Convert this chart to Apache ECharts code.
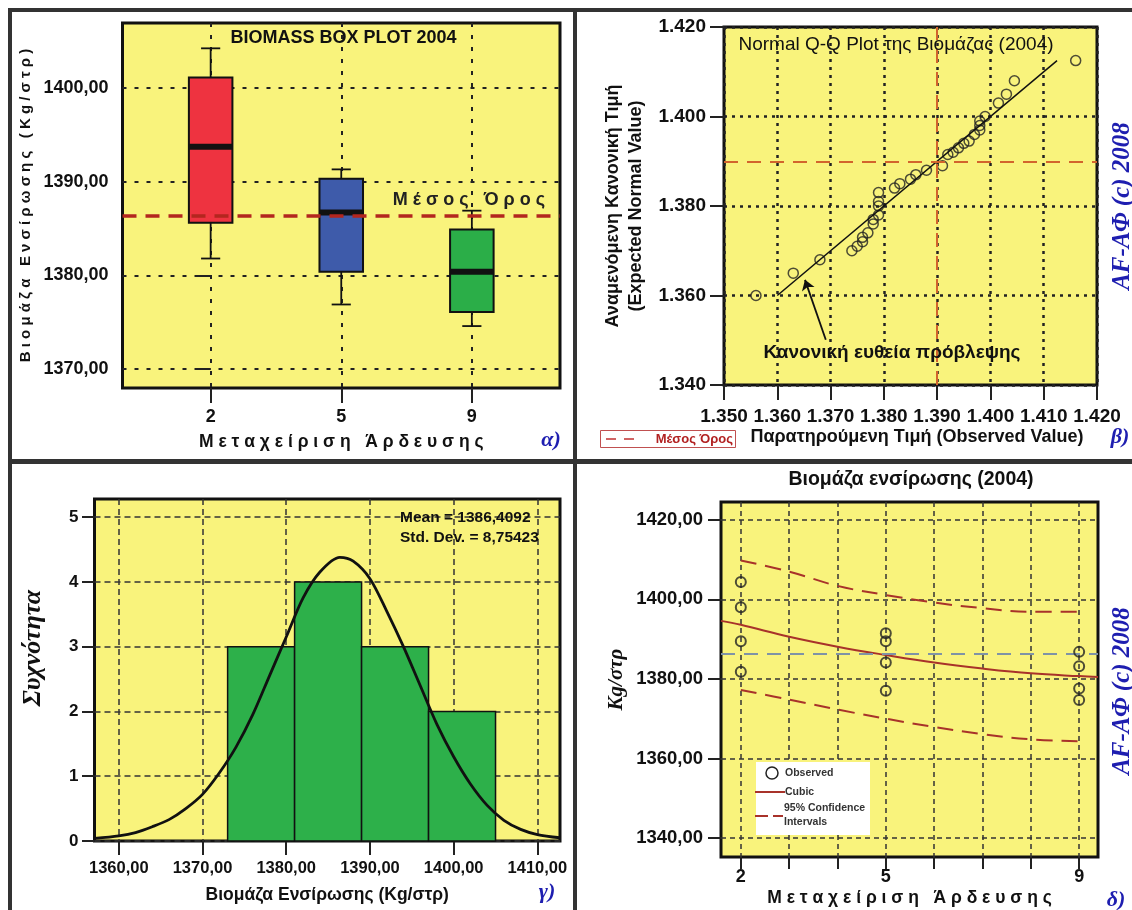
<!doctype html>
<html>
<head>
<meta charset="UTF-8">
<title>Βιομάζα ενσίρωσης 2004</title>
<script src="https://cdn.jsdelivr.net/npm/echarts@6/dist/echarts.min.js"></script>
<style>
  html, body { margin: 0; padding: 0; background: #fff; }
  #main { width: 1132px; height: 910px; }
</style>
</head>
<body>
<div id="main"></div>
<script>
// ---- data ----
var treatments = ['2', '5', '9'];
// [low, q1, median, q3, high] per treatment
var boxStats = [
    [1381.8, 1385.6, 1393.7, 1401.1, 1404.2],
    [1376.9, 1380.4, 1386.7, 1390.3, 1391.3],
    [1374.6, 1376.1, 1380.4, 1384.9, 1386.9]
];
var boxColors = ['#EE3340', '#3E5BAA', '#2BAE48'];
var meanValue = 1386.4092;
var stdDev = 8.75423;

// Q-Q plot (observed vs expected normal value)
var qqObserved = [1.356, 1.363, 1.368, 1.374, 1.375, 1.376, 1.376, 1.377, 1.378, 1.378, 1.379, 1.379, 1.379, 1.379,
    1.382, 1.383, 1.385, 1.386, 1.388, 1.391, 1.392, 1.393, 1.394, 1.395, 1.396, 1.397, 1.398, 1.398, 1.398, 1.399,
    1.4015, 1.403, 1.4045, 1.416];
var qqExpected = [1.360, 1.365, 1.368, 1.370, 1.371, 1.372, 1.373, 1.374, 1.376, 1.377, 1.378, 1.380, 1.381, 1.383,
    1.384, 1.385, 1.386, 1.387, 1.388, 1.389, 1.3915, 1.392, 1.393, 1.394, 1.3945, 1.396, 1.397, 1.398, 1.399, 1.400,
    1.403, 1.405, 1.408, 1.4125];
var qqLineEnds = [1.360, 1.4125];
var qqMean = 1.3864;

// histogram
var binStart = [1373, 1381, 1389, 1397];
var binEnd = [1381, 1389, 1397, 1405];
var binCount = [3, 4, 3, 2];
var curveX = [1357.1, 1360, 1362, 1364, 1366, 1368, 1370, 1372, 1374, 1376, 1378, 1380, 1382, 1384, 1386.4,
    1388, 1390, 1392, 1394, 1396, 1398, 1400, 1402, 1404, 1406, 1408, 1410, 1412.7];
var curveY = [0.04, 0.08, 0.13, 0.22, 0.33, 0.50, 0.72, 1.05, 1.45, 1.95, 2.55, 3.15, 3.75, 4.15, 4.38,
    4.32, 4.05, 3.55, 3.00, 2.40, 1.80, 1.30, 0.88, 0.55, 0.32, 0.18, 0.10, 0.05];

// curve fit
var obsX = [2, 2, 2, 2, 5, 5, 5, 5, 9, 9, 9, 9];
var obsY = [1404.4, 1398.0, 1389.5, 1381.8, 1391.5, 1389.5, 1384.1, 1377.0, 1386.8, 1383.2, 1377.6, 1374.7];
var fitX = [1.59, 2, 3, 4, 5, 6, 7, 8, 9, 9.39];
var fitY = [1394.6, 1393.6, 1390.6, 1388.1, 1386.0, 1384.1, 1382.6, 1381.4, 1380.7, 1380.5];
var ciX = [2, 3, 4, 5, 6, 7, 8, 9];
var ciUpper = [1409.8, 1407.0, 1403.4, 1401.1, 1399.2, 1397.8, 1396.9, 1396.9];
var ciLower = [1377.2, 1374.8, 1372.3, 1370.0, 1367.9, 1366.1, 1364.8, 1364.3];

function pairs(xs, ys) {
    return xs.map(function (x, i) { return [x, ys[i]]; });
}
function comma2(v) { return v.toFixed(2).replace('.', ','); }

// ---- styles ----
var SANS = 'Liberation Sans, Arial, sans-serif';
var SERIF = 'Liberation Serif, Times New Roman, serif';
var YELLOW = '#F9F37C';
var INK = '#111';
var BLUE = '#1E1EB0';
var FIT = '#A8322A';

function gridBox(left, top, width, height) {
    return {left: left, top: top, width: width, height: height, show: true,
        backgroundColor: YELLOW, borderColor: INK, borderWidth: 3, containLabel: false};
}
function label(extra) {
    var o = {color: INK, fontWeight: 'bold', fontSize: 18, fontFamily: SANS};
    for (var k in extra) o[k] = extra[k];
    return o;
}
function tick(len, values) {
    var o = {show: true, inside: false, length: len, lineStyle: {color: '#222', width: 2}};
    if (values) o.customValues = values;
    return o;
}
function txt(s, x, y, font, fill, align, extra) {
    var el = {type: 'text', z: 10, style: {text: s, x: x, y: y, font: font, fill: fill || INK,
        align: align || 'center', textAlign: align || 'center', verticalAlign: 'middle', textVerticalAlign: 'middle'}};
    for (var k in extra) el[k] = extra[k];
    return el;
}

var myChart = echarts.init(document.getElementById('main'));

var option = {
    backgroundColor: '#fff',
    animation: false,
    grid: [
        gridBox(122.5, 23, 437.5, 365),
        gridBox(724, 27, 373, 358),
        gridBox(94.5, 499, 465.5, 342),
        gridBox(721, 502, 377, 355)
    ],
    xAxis: [
        {
            gridIndex: 0, type: 'value', min: -0.675, max: 2.675,
            axisLine: {show: false},
            axisTick: tick(15, [0, 1, 2]),
            axisLabel: label({customValues: [0, 1, 2], margin: 20,
                formatter: function (v) { return treatments[Math.round(v)]; }}),
            splitLine: {show: true, lineStyle: {type: [4, 8], color: '#222', width: 2}},
            name: 'Μ ε τ α χ ε ί ρ ι σ η   Ά ρ δ ε υ σ η ς', nameLocation: 'middle', nameGap: 45,
            nameTextStyle: label({fontSize: 17.5})
        },
        {
            gridIndex: 1, type: 'value', min: 1.35, max: 1.42, interval: 0.01,
            axisLine: {show: false},
            axisTick: tick(15),
            axisLabel: label({margin: 22, fontSize: 19, formatter: function (v) { return v.toFixed(3); }}),
            splitLine: {show: true, lineStyle: {type: [3, 5], color: '#222', width: 2.5}},
            name: 'Παρατηρούμενη Τιμή (Observed Value)', nameLocation: 'middle', nameGap: 43,
            nameTextStyle: label({padding: [0, 0, 0, 13]})
        },
        {
            gridIndex: 2, type: 'value', min: 1357.1, max: 1412.7,
            axisLine: {show: false},
            axisTick: tick(14, [1360, 1370, 1380, 1390, 1400, 1410]),
            axisLabel: label({customValues: [1360, 1370, 1380, 1390, 1400, 1410], margin: 19, fontSize: 16.5, formatter: comma2}),
            splitLine: {show: true, lineStyle: {type: [6, 4], color: '#333', width: 1.5}},
            name: 'Βιομάζα Ενσίρωσης (Kg/στρ)', nameLocation: 'middle', nameGap: 45,
            nameTextStyle: label({fontSize: 17.5})
        },
        {
            gridIndex: 3, type: 'value', min: 1.59, max: 9.39,
            axisLine: {show: false},
            axisTick: tick(12, [2, 3, 4, 5, 6, 7, 8, 9]),
            axisLabel: label({customValues: [2, 5, 9], margin: 11,
                formatter: function (v) { return String(Math.round(v)); }}),
            splitLine: {show: true, lineStyle: {type: [5, 4], color: '#333', width: 1.5}},
            name: 'Μ ε τ α χ ε ί ρ ι σ η   Ά ρ δ ε υ σ η ς', nameLocation: 'middle', nameGap: 32,
            nameTextStyle: label({fontSize: 17.5})
        }
    ],
    yAxis: [
        {
            gridIndex: 0, type: 'value', min: 1368, max: 1406.9,
            axisLine: {show: false},
            axisTick: tick(13.5, [1370, 1380, 1390, 1400]),
            axisLabel: label({customValues: [1370, 1380, 1390, 1400], margin: 14, formatter: comma2}),
            splitLine: {show: true, lineStyle: {type: [4, 8], color: '#222', width: 2}},
            name: 'Β ι ο μ ά ζ α   Ε ν σ ί ρ ω σ η ς   ( K g / σ τ ρ )', nameLocation: 'middle', nameGap: 89,
            nameTextStyle: label({fontSize: 15})
        },
        {
            gridIndex: 1, type: 'value', min: 1.34, max: 1.42, interval: 0.02,
            axisLine: {show: false},
            axisTick: tick(14),
            axisLabel: label({margin: 18, fontSize: 19, formatter: function (v) { return v.toFixed(3); }}),
            splitLine: {show: true, lineStyle: {type: [3, 5], color: '#222', width: 2.5}},
            name: 'Αναμενόμενη Κανονική Τιμή\n(Expected Normal Value)', nameLocation: 'middle', nameGap: 76,
            nameTextStyle: label({lineHeight: 23})
        },
        {
            gridIndex: 2, type: 'value', min: 0, max: 5.28,
            axisLine: {show: false},
            axisTick: tick(12.5, [0, 1, 2, 3, 4, 5]),
            axisLabel: label({customValues: [0, 1, 2, 3, 4, 5], margin: 16, fontSize: 17})
            ,splitLine: {show: true, lineStyle: {type: [6, 4], color: '#333', width: 1.5}}
        },
        {
            gridIndex: 3, type: 'value', min: 1335.2, max: 1424.5,
            axisLine: {show: false},
            axisTick: tick(13, [1340, 1360, 1380, 1400, 1420]),
            axisLabel: label({customValues: [1340, 1360, 1380, 1400, 1420], margin: 18, fontSize: 18.5, formatter: comma2}),
            splitLine: {show: true, lineStyle: {type: [5, 4], color: '#333', width: 1.5}},
            name: 'Kg/στρ', nameLocation: 'middle', nameGap: 94,
            nameTextStyle: {color: INK, fontSize: 21, fontStyle: 'italic', fontWeight: 'bold', fontFamily: SERIF}
        }
    ],
    series: [
        // α) box plot
        {
            type: 'custom', xAxisIndex: 0, yAxisIndex: 0,
            data: boxStats.map(function (s, i) { return [i].concat(s); }),
            encode: {x: 0, y: [1, 2, 3, 4, 5]},
            renderItem: function (params, api) {
                var x = api.value(0);
                var lo = api.coord([x, api.value(1)]);
                var q1 = api.coord([x, api.value(2)]);
                var md = api.coord([x, api.value(3)]);
                var q3 = api.coord([x, api.value(4)]);
                var hi = api.coord([x, api.value(5)]);
                var half = api.size([1, 0])[0] / 6;
                var cap = half * 0.44;
                return {
                    type: 'group', children: [
                        {type: 'line', shape: {x1: lo[0], y1: lo[1], x2: hi[0], y2: hi[1]}, style: {stroke: INK, lineWidth: 1.8}},
                        {type: 'line', shape: {x1: lo[0] - cap, y1: lo[1], x2: lo[0] + cap, y2: lo[1]}, style: {stroke: INK, lineWidth: 1.8}},
                        {type: 'line', shape: {x1: hi[0] - cap, y1: hi[1], x2: hi[0] + cap, y2: hi[1]}, style: {stroke: INK, lineWidth: 1.8}},
                        {type: 'rect', shape: {x: q3[0] - half, y: q3[1], width: half * 2, height: q1[1] - q3[1]},
                            style: {fill: boxColors[params.dataIndex], stroke: INK, lineWidth: 2}},
                        {type: 'line', shape: {x1: md[0] - half, y1: md[1], x2: md[0] + half, y2: md[1]}, style: {stroke: INK, lineWidth: 6}}
                    ]
                };
            },
            markLine: {
                silent: true, symbol: 'none',
                lineStyle: {color: '#B3261E', type: [14, 9], width: 3.5},
                label: {show: true, position: 'insideEndTop', distance: [15, 6],
                    formatter: 'Μ έ σ ο ς   Ό ρ ο ς', color: '#222', fontWeight: 'bold', fontSize: 18, fontFamily: SANS},
                data: [{yAxis: meanValue}]
            }
        },
        // β) Q-Q plot
        {
            type: 'line', xAxisIndex: 1, yAxisIndex: 1,
            data: qqLineEnds.map(function (v) { return [v, v]; }),
            symbol: 'none', lineStyle: {color: INK, width: 1.5},
            markLine: {
                silent: true, symbol: 'none',
                lineStyle: {color: '#D2642C', type: [14, 9], width: 2},
                label: {show: false},
                data: [
                    {xAxis: qqMean},
                    {yAxis: qqMean},
                    [{coord: [1.3691, 1.3501], symbol: 'none', lineStyle: {color: INK, type: 'solid', width: 1.8}},
                        {coord: [1.3652, 1.3635], symbol: 'arrow', symbolSize: 10}]
                ]
            }
        },
        {
            type: 'scatter', xAxisIndex: 1, yAxisIndex: 1,
            data: pairs(qqObserved, qqExpected),
            symbol: 'circle', symbolSize: 10,
            itemStyle: {color: 'rgba(0,0,0,0)', borderColor: '#222', borderWidth: 1.5}
        },
        // γ) histogram
        {
            type: 'custom', xAxisIndex: 2, yAxisIndex: 2,
            data: binCount.map(function (c, i) { return [binStart[i], binEnd[i], c]; }),
            encode: {x: [0, 1], y: 2},
            renderItem: function (params, api) {
                var p0 = api.coord([api.value(0), api.value(2)]);
                var p1 = api.coord([api.value(1), 0]);
                return {type: 'rect', shape: {x: p0[0], y: p0[1], width: p1[0] - p0[0], height: p1[1] - p0[1]},
                    style: {fill: '#2DB04A', stroke: INK, lineWidth: 1.5}};
            }
        },
        {
            type: 'line', xAxisIndex: 2, yAxisIndex: 2,
            data: pairs(curveX, curveY), smooth: 0.3,
            symbol: 'none', lineStyle: {color: INK, width: 2.8}
        },
        // δ) curve fit
        {
            type: 'line', xAxisIndex: 3, yAxisIndex: 3,
            data: pairs(fitX, fitY), smooth: 0.4,
            symbol: 'none', lineStyle: {color: FIT, width: 2},
            markLine: {
                silent: true, symbol: 'none',
                lineStyle: {color: '#7F93A6', type: [14, 9], width: 2},
                label: {show: false},
                data: [{yAxis: meanValue}]
            }
        },
        {
            type: 'line', xAxisIndex: 3, yAxisIndex: 3,
            data: pairs(ciX, ciUpper), smooth: 0.4,
            symbol: 'none', lineStyle: {color: FIT, width: 2, type: [16, 9]}
        },
        {
            type: 'line', xAxisIndex: 3, yAxisIndex: 3,
            data: pairs(ciX, ciLower), smooth: 0.4,
            symbol: 'none', lineStyle: {color: FIT, width: 2, type: [16, 9]}
        },
        {
            type: 'scatter', xAxisIndex: 3, yAxisIndex: 3,
            data: pairs(obsX, obsY),
            symbol: 'circle', symbolSize: 10, z: 5,
            itemStyle: {color: 'rgba(0,0,0,0)', borderColor: '#222', borderWidth: 2}
        }
    ],
    graphic: [
        // frame
        {type: 'rect', shape: {x: 8, y: 8, width: 1124, height: 4}, style: {fill: '#333'}},
        {type: 'rect', shape: {x: 8, y: 8, width: 4, height: 902}, style: {fill: '#333'}},
        {type: 'rect', shape: {x: 573, y: 8, width: 4, height: 902}, style: {fill: '#333'}},
        {type: 'rect', shape: {x: 8, y: 459, width: 1124, height: 5}, style: {fill: '#333'}},
        // α
        txt('BIOMASS BOX PLOT 2004', 343.5, 38, 'bold 18px ' + SANS),
        txt('α)', 551, 440, 'italic bold 22px ' + SERIF, BLUE),
        // β
        txt('Normal Q-Q Plot της Βιομάζας (2004)', 896, 45, '19px ' + SANS),
        txt('Κανονική ευθεία πρόβλεψης', 892, 353, 'bold 19px ' + SANS),
        {type: 'rect', shape: {x: 600.5, y: 430.5, width: 135, height: 17}, style: {fill: '#fff', stroke: '#C05050', lineWidth: 1}},
        {type: 'line', shape: {x1: 606, y1: 439, x2: 616, y2: 439}, style: {stroke: '#C03030', lineWidth: 1.5}},
        {type: 'line', shape: {x1: 624, y1: 439, x2: 634, y2: 439}, style: {stroke: '#C03030', lineWidth: 1.5}},
        txt('Μέσος Όρος', 733, 439, 'bold 13px ' + SANS, '#B22222', 'right'),
        txt('β)', 1120, 437, 'italic bold 22px ' + SERIF, BLUE),
        txt('AF-ΑΦ (c) 2008', 0, 0, 'italic bold 25px ' + SERIF, BLUE, 'center', {x: 1123, y: 206, rotation: Math.PI / 2}),
        // γ
        txt('Συχνότητα', 0, 0, 'italic bold 26px ' + SERIF, INK, 'center', {x: 33, y: 648, rotation: Math.PI / 2}),
        txt('Mean = 1386,4092', 400, 518, 'bold 15.5px ' + SANS, INK, 'left'),
        txt('Std. Dev. = 8,75423', 400, 538, 'bold 15.5px ' + SANS, INK, 'left'),
        txt('γ)', 547, 892, 'italic bold 22px ' + SERIF, BLUE),
        // δ
        txt('Βιομάζα ενσίρωσης (2004)', 911, 480, 'bold 19.5px ' + SANS),
        {type: 'rect', z: 10, shape: {x: 756, y: 762, width: 114, height: 73}, style: {fill: '#fff'}},
        {type: 'circle', z: 11, shape: {cx: 772, cy: 773, r: 6}, style: {fill: 'none', stroke: '#222', lineWidth: 1.5}},
        txt('Observed', 785, 773, 'bold 10.5px ' + SANS, '#333', 'left', {z: 11}),
        {type: 'line', z: 11, shape: {x1: 755, y1: 792, x2: 785, y2: 792}, style: {stroke: FIT, lineWidth: 2}},
        txt('Cubic', 785, 792, 'bold 10.5px ' + SANS, '#333', 'left', {z: 11}),
        {type: 'line', z: 11, shape: {x1: 755, y1: 816, x2: 768, y2: 816}, style: {stroke: FIT, lineWidth: 2}},
        {type: 'line', z: 11, shape: {x1: 773, y1: 816, x2: 783, y2: 816}, style: {stroke: FIT, lineWidth: 2}},
        txt('95% Confidence', 784, 808, 'bold 10.5px ' + SANS, '#333', 'left', {z: 11}),
        txt('Intervals', 784, 822, 'bold 10.5px ' + SANS, '#333', 'left', {z: 11}),
        txt('δ)', 1116, 900, 'italic bold 22px ' + SERIF, BLUE),
        txt('AF-ΑΦ (c) 2008', 0, 0, 'italic bold 25px ' + SERIF, BLUE, 'center', {x: 1123, y: 691, rotation: Math.PI / 2})
    ]
};

myChart.setOption(option);
</script>
</body>
</html>
